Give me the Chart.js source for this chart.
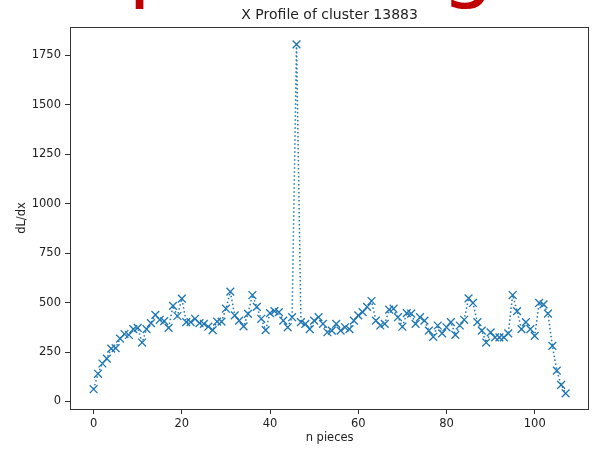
<!DOCTYPE html>
<html>
<head>
<meta charset="utf-8">
<script src="https://cdn.jsdelivr.net/npm/chart.js@4.4.1/dist/chart.umd.min.js"></script>
<style>
  html, body { margin: 0; padding: 0; background: #fff; }
  #wrap { position: relative; width: 596px; height: 450px; }
</style>
</head>
<body>
<div id="wrap"><canvas id="profile" width="596" height="450"></canvas></div>
<script>
// dL/dx per piece
const dLdx = [
  62, 140, 192, 217, 267, 270, 318, 341, 336, 366,
  372, 298, 366, 396, 438, 413, 406, 372, 483, 432,
  520, 401, 401, 418, 396, 392, 378, 361, 404, 404,
  469, 555, 435, 409, 380, 443, 538, 478, 418, 361,
  447, 457, 452, 409, 375, 426, 1805, 401, 392, 366,
  409, 426, 392, 350, 358, 392, 358, 375, 366, 409,
  435, 452, 478, 508, 409, 384, 392, 464, 469, 426,
  378, 447, 444, 392, 426, 409, 358, 327, 384, 344,
  375, 401, 337, 384, 413, 521, 498, 401, 358, 298,
  349, 324, 324, 324, 344, 538, 457, 366, 401, 366,
  332, 498, 491, 444, 281, 156, 84, 41,
];
const xTicks = [0, 20, 40, 60, 80, 100];
const yTicks = [0, 250, 500, 750, 1000, 1250, 1500, 1750];
const chartTitle = 'X Profile of cluster 13883';

const LINE_BLUE = '#1f77b4';
const AXIS_GREY = '#333';
const FONT = '"DejaVu Sans", sans-serif';

// outer box + the cropped red banner text above the title
const framePlugin = {
  id: 'frame',
  beforeDraw(chart) {
    const { ctx } = chart;
    ctx.save();
    ctx.fillStyle = '#c00000';
    ctx.font = `85px ${FONT}`;
    ctx.textBaseline = 'alphabetic';
    ctx.fillText('p', 128, -9);
    ctx.fillText('g', 441, -9);
    ctx.restore();
  },
  afterDraw(chart) {
    const { ctx, chartArea: a } = chart;
    ctx.save();
    ctx.strokeStyle = AXIS_GREY;
    ctx.lineWidth = 1;
    ctx.strokeRect(Math.round(a.left) + 0.5, Math.round(a.top) + 0.5,
      Math.round(a.right - a.left) - 1, Math.round(a.bottom - a.top));
    ctx.fillStyle = '#222';
    ctx.font = `14px ${FONT}`;
    ctx.textAlign = 'center';
    ctx.textBaseline = 'middle';
    ctx.fillText(chartTitle, (a.left + a.right) / 2, 15);
    ctx.restore();
  },
};

const tickFont = { family: FONT, size: 11.5 };

new Chart(document.getElementById('profile'), {
  type: 'line',
  plugins: [framePlugin],
  data: {
    datasets: [{
      data: dLdx.map((v, i) => ({ x: i, y: v })),
      borderColor: LINE_BLUE,
      borderWidth: 1.5,
      borderDash: [1.5, 2.5],
      pointStyle: 'crossRot',
      pointRadius: 5.5,
      pointBorderWidth: 1.3,
      pointBorderColor: LINE_BLUE,
      pointBackgroundColor: LINE_BLUE,
      tension: 0,
    }],
  },
  options: {
    responsive: false,
    animation: false,
    layout: { padding: { top: 27, right: 4, left: 0, bottom: 0 } },
    plugins: { legend: { display: false }, tooltip: { enabled: false } },
    scales: {
      x: {
        type: 'linear',
        min: -5.35,
        max: 112.35,
        afterBuildTicks: (s) => { s.ticks = xTicks.map((v) => ({ value: v })); },
        afterFit: (s) => { s.height = 41; },
        grid: { drawOnChartArea: false, drawTicks: true, tickLength: 5, color: AXIS_GREY },
        border: { display: false },
        ticks: { color: '#222', font: tickFont, padding: 3, maxRotation: 0, callback: (v) => String(v) },
        title: { display: true, text: 'n pieces', color: '#222', font: tickFont, padding: { top: 0, bottom: 5 } },
      },
      y: {
        type: 'linear',
        min: -38,
        max: 1893,
        afterBuildTicks: (s) => { s.ticks = yTicks.map((v) => ({ value: v })); },
        afterFit: (s) => { s.width = 70; },
        grid: { drawOnChartArea: false, drawTicks: true, tickLength: 5, color: AXIS_GREY },
        border: { display: false },
        ticks: { color: '#222', font: tickFont, padding: 4, callback: (v) => String(v) },
        title: { display: true, text: 'dL/dx', color: '#222', font: tickFont, padding: { top: 15, bottom: 0 } },
      },
    },
  },
});
</script>
</body>
</html>
